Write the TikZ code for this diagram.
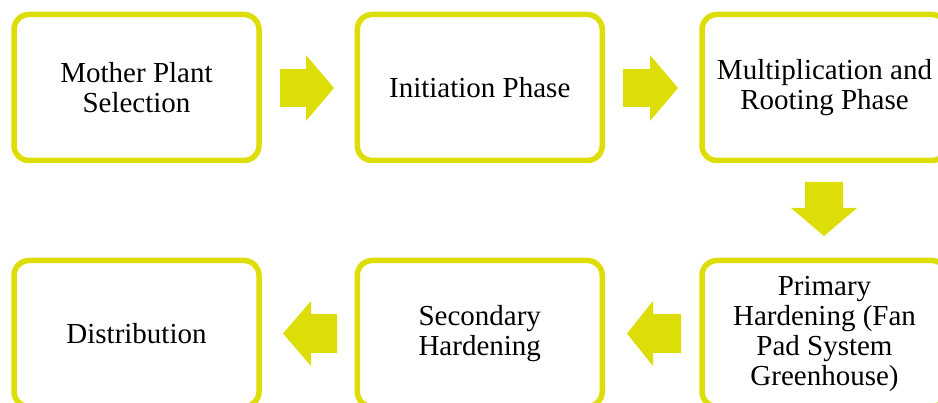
\documentclass[tikz,border=0pt]{standalone}
\usepackage{fontspec}
\setmainfont{Liberation Serif}
\definecolor{ylw}{RGB}{221,221,8}
\tikzset{
  stage/.style={draw=ylw, line width=5.5pt, rounded corners=15pt, fill=white,
    minimum width=245pt, minimum height=146pt, align=center, inner sep=0pt,
    font=\fontsize{29}{30}\selectfont},
  blockarrow/.style={fill=ylw, draw=none}
}
\begin{document}
\begin{tikzpicture}[x=1pt,y=-1pt]
\useasboundingbox (0,0) rectangle (938,403);
\node[stage] (s1) at (136.5,87.5) {Mother Plant\\Selection};
\node[stage] (s2) at (479.75,87.5) {Initiation Phase};
\node[stage] (s3) at (824.5,87.5) {Multiplication and\\Rooting Phase};
\node[stage] (s6) at (824.5,333.5) {Primary\\Hardening (Fan\\Pad System\\Greenhouse)};
\node[stage] (s5) at (479.75,333.5) {Secondary\\Hardening};
\node[stage] (s4) at (136.5,333.5) {Distribution};
% block arrows
\fill[blockarrow] (280,69) -- (306,69) -- (306,55) -- (334,88) -- (306,121) -- (306,107) -- (280,107) -- cycle;
\fill[blockarrow] (623,69) -- (650,69) -- (650,55) -- (678,88) -- (650,121) -- (650,107) -- (623,107) -- cycle;
\fill[blockarrow] (805,182) -- (843,182) -- (843,208) -- (857,208) -- (824,236) -- (791,208) -- (805,208) -- cycle;
\fill[blockarrow] (681,314) -- (653,314) -- (653,301) -- (627,333.5) -- (653,366) -- (653,353) -- (681,353) -- cycle;
\fill[blockarrow] (337,314) -- (311,314) -- (311,301) -- (283,333.5) -- (311,366) -- (311,353) -- (337,353) -- cycle;
\end{tikzpicture}
\end{document}
